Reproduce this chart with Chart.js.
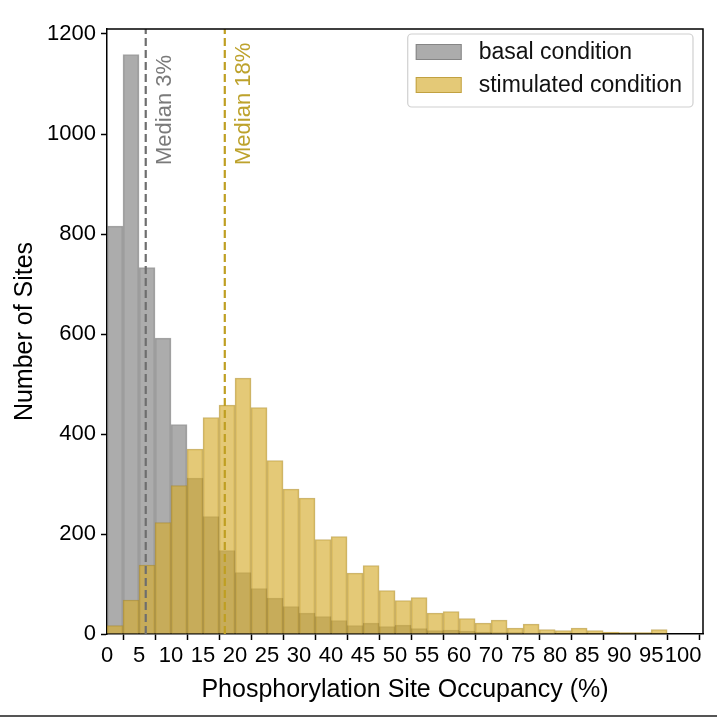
<!DOCTYPE html>
<html>
<head>
<meta charset="utf-8">
<script src="https://cdn.jsdelivr.net/npm/chart.js@4.4.1/dist/chart.umd.min.js"></script>
<style>
html,body{margin:0;padding:0;background:#fff;}
#wrap{width:717px;height:717px;position:relative;}
canvas{display:block;}
</style>
</head>
<body>
<div id="wrap"><canvas id="c" width="717" height="717"></canvas></div>
<script>
// ---- data ----
const binStarts = [0,2.5,5,7.5,10,12.5,15,17.5,20,22.5,25,27.5,30,32.5,35,37.5,40,42.5,45,47.5,50,52.5,55,57.5,60,62.5,65,67.5,70,72.5,75,77.5,80,82.5,85,87.5];
const binWidth = 2.5;
const basalCounts = [816,1159,733,592,419,312,235,167,123,91,72,55,42,35,27,17,22,15,18,11,7,8,6,4,3,3,2,2,1,1,1,1,0,0,0,0];
const stimulatedCounts = [17,68,138,223,297,370,433,458,512,453,347,290,272,189,195,122,137,87,67,73,42,45,31,22,28,12,20,9,7,12,7,4,3,3,9,1];
const seriesNames = ['basal condition','stimulated condition'];
const xTickValues = [0,5,10,15,20,25,30,35,40,45,50,55,60,65,70,75,80,85,90];
const xTickLabels = ['0','5','10','15','20','25','30','40','45','50','55','60','70','75','80','85','90','95','100'];
const yTickValues = [0,200,400,600,800,1000,1200];
const medianPositions = [6.05, 18.4];
const medianLabels = ['Median 3%','Median 18%'];
const xRange = [0, 93.1];
const yRange = [0, 1210];

// ---- styles ----
const FONT = "'Liberation Sans', Arial, Helvetica, sans-serif";
const greyFill = 'rgba(128,128,128,0.65)';
const greyEdge = 'rgba(100,100,100,0.55)';
const goldFill = 'rgba(214,172,46,0.65)';
const goldEdge = 'rgba(170,135,30,0.6)';
const greyLine = '#6e6e6e';
const goldLine = '#bf9f22';

const toXY = (vals) => binStarts.map((s, i) => ({x: s + binWidth / 2, y: vals[i]}));

const framePlugin = {
  id: 'frame',
  afterDatasetsDraw(chart) {
    const {ctx, chartArea: ca, scales} = chart;
    ctx.save();
    // top & right spines
    ctx.strokeStyle = '#000';
    ctx.lineWidth = 1.5;
    ctx.beginPath();
    ctx.moveTo(ca.left, ca.top);
    ctx.lineTo(ca.right, ca.top);
    ctx.lineTo(ca.right, ca.bottom);
    ctx.stroke();
    // median labels
    ctx.font = '22px ' + FONT;
    ctx.textAlign = 'left';
    ctx.textBaseline = 'middle';
    const cols = ['#7a7a7a', '#bda22c'];
    medianPositions.forEach((m, i) => {
      const px = scales.x.getPixelForValue(m) + 19;
      ctx.save();
      ctx.translate(px, ca.top + 136);
      ctx.rotate(-Math.PI / 2);
      ctx.fillStyle = cols[i];
      ctx.fillText(medianLabels[i], 0, 0);
      ctx.restore();
    });
    // legend
    ctx.font = '23px ' + FONT;
    const tw = Math.max(...seriesNames.map(n => ctx.measureText(n).width));
    const boxW = 8 + 46 + 17 + tw + 11;
    const boxH = 73;
    const bx = ca.right - 10 - boxW;
    const by = ca.top + 5;
    ctx.beginPath();
    if (ctx.roundRect) ctx.roundRect(bx, by, boxW, boxH, 4); else ctx.rect(bx, by, boxW, boxH);
    ctx.fillStyle = 'rgba(255,255,255,0.85)';
    ctx.fill();
    ctx.strokeStyle = '#d0d0d0';
    ctx.lineWidth = 1.2;
    ctx.stroke();
    const fills = [greyFill, goldFill];
    const edges = [greyEdge, goldEdge];
    seriesNames.forEach((n, i) => {
      const cy = by + 18 + i * 33;
      ctx.fillStyle = fills[i];
      ctx.fillRect(bx + 8, cy - 8, 46, 16);
      ctx.strokeStyle = edges[i];
      ctx.lineWidth = 1;
      ctx.strokeRect(bx + 8.5, cy - 7.5, 45, 15);
      ctx.fillStyle = '#111';
      ctx.textAlign = 'left';
      ctx.textBaseline = 'middle';
      ctx.fillText(n, bx + 8 + 46 + 17, cy + 1);
    });
    ctx.restore();
  },
  afterDraw(chart) {
    const {ctx} = chart;
    ctx.save();
    ctx.fillStyle = '#555';
    ctx.fillRect(0, 715, 717, 2);
    ctx.restore();
  }
};

new Chart(document.getElementById('c'), {
  type: 'bar',
  data: {
    datasets: [
      {
        label: seriesNames[0],
        data: toXY(basalCounts),
        backgroundColor: greyFill,
        borderColor: greyEdge,
        borderWidth: 1,
        grouped: false,
        barPercentage: 1,
        categoryPercentage: 1,
        order: 3
      },
      {
        label: seriesNames[1],
        data: toXY(stimulatedCounts),
        backgroundColor: goldFill,
        borderColor: goldEdge,
        borderWidth: 1,
        grouped: false,
        barPercentage: 1,
        categoryPercentage: 1,
        order: 2
      },
      {
        type: 'line',
        label: medianLabels[0],
        data: [{x: medianPositions[0], y: yRange[0]}, {x: medianPositions[0], y: yRange[1]}],
        borderColor: greyLine,
        borderWidth: 2.2,
        borderDash: [8, 4],
        pointRadius: 0,
        order: 1
      },
      {
        type: 'line',
        label: medianLabels[1],
        data: [{x: medianPositions[1], y: yRange[0]}, {x: medianPositions[1], y: yRange[1]}],
        borderColor: goldLine,
        borderWidth: 2.2,
        borderDash: [8, 4],
        pointRadius: 0,
        order: 0
      }
    ]
  },
  options: {
    responsive: false,
    animation: false,
    devicePixelRatio: 1,
    layout: {padding: {top: 29, right: 14, left: 0, bottom: 0}},
    plugins: {legend: {display: false}, tooltip: {enabled: false}},
    scales: {
      x: {
        type: 'linear',
        min: xRange[0],
        max: xRange[1],
        offset: false,
        afterBuildTicks: s => { s.ticks = xTickValues.map(v => ({value: v})); },
        afterFit: s => { s.height = 83; },
        grid: {display: true, drawOnChartArea: false, drawTicks: true, tickLength: 6, tickColor: '#000', tickWidth: 1.5},
        border: {display: true, color: '#000', width: 1.5},
        ticks: {
          autoSkip: false, maxRotation: 0, minRotation: 0, padding: 3,
          color: '#000', font: {family: FONT, size: 22},
          callback: (v, i) => xTickLabels[i]
        },
        title: {display: true, text: 'Phosphorylation Site Occupancy (%)', color: '#000',
          font: {family: FONT, size: 25}, padding: {top: 0, bottom: 12}}
      },
      y: {
        type: 'linear',
        min: yRange[0],
        max: yRange[1],
        afterBuildTicks: s => { s.ticks = yTickValues.map(v => ({value: v})); },
        afterFit: s => { s.width = 107; },
        grid: {display: true, drawOnChartArea: false, drawTicks: true, tickLength: 6, tickColor: '#000', tickWidth: 1.5},
        border: {display: true, color: '#000', width: 1.5},
        ticks: {padding: 5, color: '#000', font: {family: FONT, size: 22}, callback: v => String(v)},
        title: {display: true, text: 'Number of Sites', color: '#000',
          font: {family: FONT, size: 25}, padding: {top: 10, bottom: 0}}
      }
    }
  },
  plugins: [framePlugin]
});
</script>
</body>
</html>
